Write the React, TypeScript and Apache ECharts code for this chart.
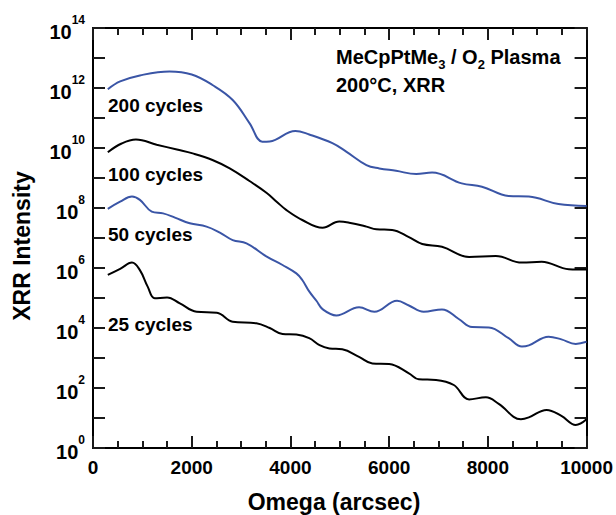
import { useEffect, useRef } from 'react';
import * as echarts from 'echarts';

const FONT = '"Liberation Sans", Arial, Helvetica, sans-serif';
const BLUE = '#3a55a6';
const BLACK = '#000000';

// Omega (arcsec) and log10 of XRR intensity for each film thickness
const omega200 = [300, 550, 950, 1550, 2000, 2420, 2830, 3170, 3430, 3580, 4100, 4380, 4850, 5130, 5540, 5800, 6140, 6550, 6870, 7470, 7880, 8420, 8830, 9430, 10000];
const logI200 = [11.96, 12.22, 12.42, 12.55, 12.45, 12.1, 11.6, 10.83, 10.21, 10.22, 10.57, 10.45, 10.16, 9.88, 9.43, 9.32, 9.24, 9.13, 9.18, 8.82, 8.71, 8.4, 8.38, 8.13, 8.07];

const omega100 = [300, 580, 870, 1290, 1700, 2020, 2420, 2770, 3170, 3520, 3720, 3920, 4240, 4650, 4990, 5190, 5540, 5740, 6060, 6400, 6670, 7070, 7620, 8160, 8690, 9090, 9640, 10000];
const logI100 = [9.86, 10.15, 10.28, 10.11, 9.95, 9.82, 9.6, 9.32, 8.9, 8.5, 8.21, 7.93, 7.6, 7.34, 7.55, 7.51, 7.38, 7.29, 7.27, 7.03, 6.8, 6.71, 6.37, 6.4, 6.18, 6.21, 5.96, 5.95];

const omega50 = [300, 550, 790, 950, 1190, 1420, 1660, 1960, 2300, 2570, 2830, 3110, 3520, 3840, 4120, 4240, 4380, 4530, 4650, 4930, 5390, 5700, 6160, 6400, 6700, 7070, 7410, 7680, 8020, 8420, 8690, 8830, 9230, 9490, 9780, 10000];
const logI50 = [7.97, 8.21, 8.38, 8.27, 7.88, 7.82, 7.68, 7.49, 7.38, 7.18, 6.93, 6.82, 6.38, 6.1, 5.82, 5.6, 5.22, 4.9, 4.63, 4.42, 4.69, 4.54, 4.91, 4.75, 4.54, 4.62, 4.3, 4.03, 4.02, 3.66, 3.38, 3.42, 3.71, 3.62, 3.47, 3.54];

const omega25 = [300, 550, 790, 950, 1110, 1250, 1500, 1760, 2100, 2510, 2830, 3310, 3580, 3840, 4120, 4380, 4590, 4790, 5050, 5390, 5660, 6000, 6400, 6600, 6950, 7310, 7620, 7960, 8220, 8670, 8830, 9190, 9490, 9780, 10000];
const logI25 = [5.77, 5.97, 6.18, 5.93, 5.37, 4.99, 5.02, 4.82, 4.54, 4.51, 4.21, 4.16, 4.0, 3.8, 3.78, 3.66, 3.43, 3.32, 3.29, 3.04, 2.82, 2.8, 2.49, 2.29, 2.27, 2.1, 1.62, 1.69, 1.47, 0.96, 1.02, 1.27, 1.07, 0.77, 0.96];

const curveNames = ['200 cycles', '100 cycles', '50 cycles', '25 cycles'];
const curveColors = [BLUE, BLACK, BLUE, BLACK];
const curveOmega = [omega200, omega100, omega50, omega25];
const curveLogI = [logI200, logI100, logI50, logI25];

// Axis ranges and tick positions
const omegaMin = 0;
const omegaMax = 10000;
const omegaStep = 2000;
const expMin = 0; // 10^0
const expMax = 14; // 10^14
const expLabelStep = 2;
const expOddTicks = [1, 3, 5, 7, 9, 11, 13];

const MAJOR_LEN = 12;
const MINOR_LEN = 7;
const TICK_COLOR = '#1a1a1a';

function xAxisFor(position: 'bottom' | 'top') {
  return {
    type: 'value',
    gridIndex: 0,
    position,
    min: omegaMin,
    max: omegaMax,
    interval: omegaStep,
    axisLine: { show: true, onZero: false, lineStyle: { color: '#000', width: 2 } },
    axisTick: { show: true, inside: true, length: MAJOR_LEN, lineStyle: { color: TICK_COLOR, width: 2 } },
    minorTick: { show: true, splitNumber: 4, length: MINOR_LEN, lineStyle: { color: TICK_COLOR, width: 2 } },
    splitLine: { show: false },
    minorSplitLine: { show: false },
    axisLabel: {
      show: position === 'bottom',
      margin: 10,
      fontSize: 19,
      fontWeight: 'bold',
      color: '#000',
      fontFamily: FONT,
      formatter: (v: number) => String(v),
    },
  };
}

function yAxisFor(position: 'left' | 'right') {
  return {
    type: 'value',
    gridIndex: 0,
    position,
    min: expMin,
    max: expMax,
    interval: expLabelStep,
    axisLine: { show: true, onZero: false, lineStyle: { color: '#000', width: 2 } },
    axisTick: { show: true, inside: true, length: MAJOR_LEN, lineStyle: { color: TICK_COLOR, width: 2 } },
    splitLine: { show: false },
    axisLabel: {
      show: position === 'left',
      margin: 8,
      lineHeight: 28,
      fontFamily: FONT,
      formatter: (v: number) => `{b|10}{s|${Math.round(v)}}`,
      rich: {
        b: { fontSize: 20, fontWeight: 'bold', color: '#000', fontFamily: FONT, verticalAlign: 'bottom' },
        s: { fontSize: 12, fontWeight: 'bold', color: '#000', fontFamily: FONT, verticalAlign: 'top' },
      },
    },
  };
}

// Inward ticks at the odd decades on the left and right frame edges
function renderOddDecadeTicks(params: any, api: any) {
  const cs = params.coordSys;
  const left = cs.x;
  const right = cs.x + cs.width;
  const children: any[] = [];
  expOddTicks.forEach((e) => {
    const py = api.coord([omegaMin, e])[1];
    children.push({ type: 'line', shape: { x1: left, y1: py, x2: left + MAJOR_LEN, y2: py }, style: { stroke: TICK_COLOR, lineWidth: 2 } });
    children.push({ type: 'line', shape: { x1: right, y1: py, x2: right - MAJOR_LEN, y2: py }, style: { stroke: TICK_COLOR, lineWidth: 2 } });
  });
  return { type: 'group', children };
}

const labelY = [105, 174, 234, 324];

function XrrChart() {
  const ref = useRef<HTMLDivElement>(null);

  useEffect(() => {
    const chart = echarts.init(ref.current!, null, { renderer: 'svg' });

    const series: any[] = curveNames.map((name, i) => ({
      name,
      type: 'line',
      xAxisIndex: 0,
      yAxisIndex: 0,
      showSymbol: false,
      symbol: 'none',
      smooth: 0.4,
      lineStyle: { color: curveColors[i], width: 2 },
      data: curveOmega[i].map((x, j) => [x, curveLogI[i][j]]),
    }));

    series.push({
      type: 'custom',
      name: 'decade ticks',
      coordinateSystem: 'cartesian2d',
      xAxisIndex: 0,
      yAxisIndex: 0,
      silent: true,
      clip: false,
      z: 10,
      data: [[omegaMin, expMin]],
      renderItem: renderOddDecadeTicks,
    });

    const curveLabels = curveNames.map((name, i) => ({
      type: 'text',
      x: 108,
      y: labelY[i],
      style: {
        text: name,
        font: `bold 19px ${FONT}`,
        fill: '#000',
        verticalAlign: 'middle',
        textVerticalAlign: 'middle',
      },
    }));

    chart.setOption({
      animation: false,
      backgroundColor: '#fff',
      grid: { left: 93, right: 28, top: 28, bottom: 67, containLabel: false },
      xAxis: [xAxisFor('bottom'), xAxisFor('top')],
      yAxis: [yAxisFor('left'), yAxisFor('right')],
      series,
      graphic: [
        ...curveLabels,
        {
          type: 'text',
          x: 336,
          y: 59,
          style: {
            text: '{a|MeCpPtMe}{b|3}{a| / O}{b|2}{a| Plasma}',
            fill: '#000',
            lineHeight: 24,
            verticalAlign: 'middle',
            textVerticalAlign: 'middle',
            rich: {
              a: { fontSize: 20, fontWeight: 'bold', fontFamily: FONT, fill: '#000', verticalAlign: 'top' },
              b: { fontSize: 13, fontWeight: 'bold', fontFamily: FONT, fill: '#000', verticalAlign: 'bottom' },
            },
          },
        },
        {
          type: 'text',
          x: 336,
          y: 85,
          style: {
            text: '200°C, XRR',
            font: `bold 20px ${FONT}`,
            fill: '#000',
            verticalAlign: 'middle',
            textVerticalAlign: 'middle',
          },
        },
        {
          type: 'text',
          x: 334,
          y: 502,
          style: {
            text: 'Omega (arcsec)',
            font: `bold 23px ${FONT}`,
            fill: '#000',
            align: 'center',
            textAlign: 'center',
            verticalAlign: 'middle',
            textVerticalAlign: 'middle',
          },
        },
        {
          type: 'text',
          x: 22,
          y: 246,
          rotation: Math.PI / 2,
          style: {
            text: 'XRR Intensity',
            font: `bold 23px ${FONT}`,
            fill: '#000',
            align: 'center',
            textAlign: 'center',
            verticalAlign: 'middle',
            textVerticalAlign: 'middle',
          },
        },
      ],
    });

    return () => chart.dispose();
  }, []);

  return <div ref={ref} style={{ width: 616, height: 515, display: 'inline-block' }} />;
}

export default function App() {
  return (
    <div style={{ position: 'fixed', left: 0, top: 0, width: 616, height: 515, background: '#fff', lineHeight: 0 }}>
      <XrrChart />
    </div>
  );
}
